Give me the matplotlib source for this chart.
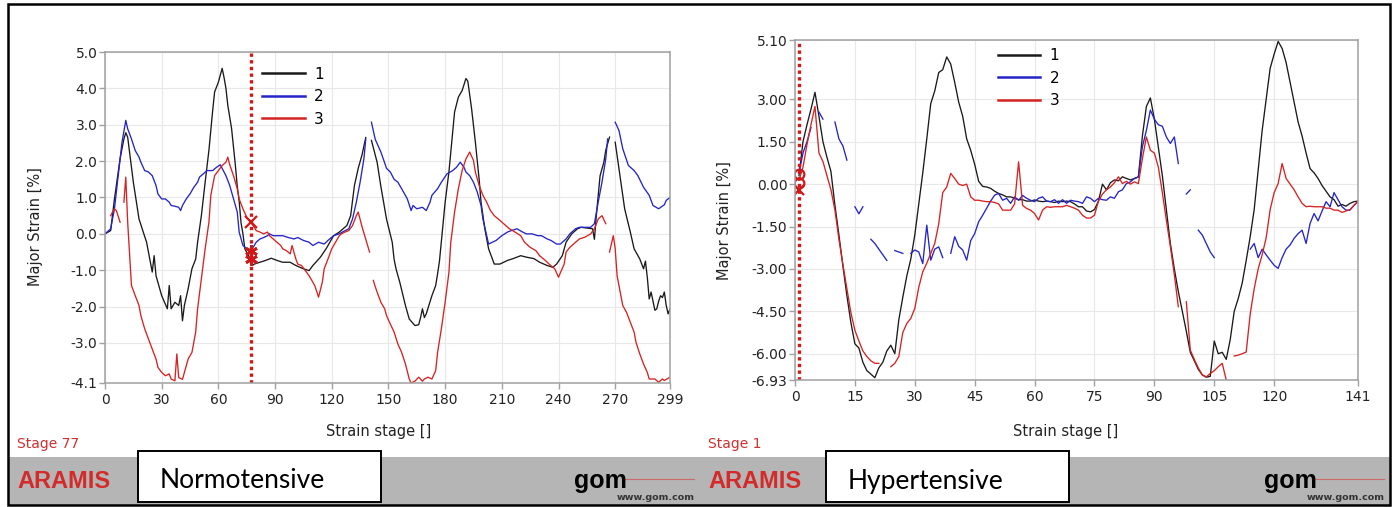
import numpy as np
import matplotlib
matplotlib.use("Agg")
import matplotlib.pyplot as plt
from matplotlib.patches import Rectangle

nan = np.nan
OUTPUT_PATH = "out.png"

COLORS = ["#1a1a1a", "#2424c8", "#d62222"]
LABELS = ["1", "2", "3"]
MARK_RED = "#d01818"

# ---- Normotensive panel (left) ----
norm_xticks = [0, 30, 60, 90, 120, 150, 180, 210, 240, 270, 299]
norm_yticks = [5.0, 4.0, 3.0, 2.0, 1.0, 0.0, -1.0, -2.0, -3.0, -4.1]
norm_stage = 77
norm_x_marks = [0.32]
norm_star_marks = [-0.46, -0.68]

n1_x = [0, 3, 5, 8, 10, 11, 12, 15, 18, 22,
        25, 26, 27, 30, 33, 34, 35, 37, 39, 40,
        41, 42, 44, 46, 48, 49, 51, 53, 55, 57,
        58, 60, 62, 63, 64, 65, 67, 69, 70, 71,
        72, 73, 74, 76, 78, 79, 82, 85, 88, 91,
        94, 98, 101, 105, 108, 110, 114, 117, 121, 124,
        128, 130, 132, 134, 136, 138, 139, 141, 144, 146,
        149, 152, 153, 154, 156, 159, 161, 164, 166, 167,
        168, 169, 170, 173, 175, 176, 177, 178, 180, 182,
        184, 185, 187, 189, 191, 192, 194, 196, 198, 199,
        201, 203, 205, 206, 209, 213, 216, 220, 223, 227,
        230, 234, 237, 239, 242, 244, 247, 250, 252, 255,
        258, 259, 260, 262, 264, 265, 267, 268, 270, 273,
        275, 278, 280, 283, 285, 286, 287, 288, 289, 290,
        291, 292, 293, 294, 295, 296, 297, 298, 299]
n1_y = [0.0, 0.09, 0.96, 2.07, 2.61, 2.78, 2.66, 1.42, 0.41, -0.23,
        -1.05, -0.6, -1.15, -1.7, -2.06, -1.42, -2.06, -1.88, -1.97, -1.7,
        -2.39, -1.97, -1.51, -0.96, -0.69, -0.23, 0.5, 1.42, 2.3, 3.4,
        3.9, 4.17, 4.55, 4.3, 4.0, 3.53, 2.89, 1.88, 1.3, 0.9,
        0.3, 0.0, -0.41, -0.6, -0.87, -0.83, -0.78, -0.73, -0.67, -0.73,
        -0.78, -0.78, -0.87, -0.96, -1.01, -0.87, -0.64, -0.41, -0.05, 0.05,
        0.23, 0.5, 1.33, 1.8, 2.17, 2.65, nan, 2.57, 1.97, 1.3,
        0.4, -0.23, -0.7, -0.96, -1.33, -1.97, -2.34, -2.52, -2.5, -2.3,
        -2.06, -2.3, -2.2, -1.7, -1.42, -1.1, -0.75, -0.2, 0.87, 1.7,
        2.8, 3.35, 3.76, 3.94, 4.27, 4.2, 3.44, 2.52, 1.5, 0.87,
        0.14, -0.41, -0.69, -0.83, -0.83, -0.73, -0.68, -0.6, -0.64, -0.68,
        -0.78, -0.87, -0.92, -0.83, -0.6, -0.23, 0.0, 0.14, 0.18, 0.16,
        0.14, -0.15, 0.5, 1.6, 1.97, 2.3, 2.66, nan, 2.52, 1.42,
        0.69, 0.05, -0.41, -0.69, -0.96, -0.75, -1.2, -1.79, -1.6, -1.85,
        -2.1, -2.06, -1.85, -1.7, -1.75, -1.6, -1.97, -2.2, -2.06]

n2_x = [0, 3, 5, 7, 9, 11, 12, 14, 16, 18,
        19, 21, 23, 25, 27, 28, 30, 32, 34, 35,
        37, 39, 40, 41, 43, 45, 47, 49, 50, 52,
        54, 56, 57, 59, 61, 63, 64, 66, 68, 70,
        71, 73, 75, 77, 79, 80, 82, 84, 86, 87,
        89, 92, 94, 97, 100, 102, 105, 108, 110, 113,
        116, 118, 121, 124, 126, 129, 131, 133, 135, 137,
        138, 139, 141, 143, 146, 147, 149, 151, 153, 155,
        157, 160, 162, 163, 165, 168, 170, 172, 173, 176,
        178, 181, 184, 186, 188, 190, 191, 193, 195, 197,
        199, 200, 202, 203, 205, 207, 210, 213, 215, 218,
        221, 223, 226, 229, 231, 234, 236, 239, 241, 244,
        246, 249, 251, 254, 257, 259, 261, 263, 265, 266,
        268, 270, 272, 274, 277, 280, 282, 285, 288, 290,
        293, 296, 297, 299]
n2_y = [0.0, 0.14, 0.69, 1.6, 2.52, 3.12, 2.89, 2.61, 2.29, 2.11,
        1.97, 1.74, 1.7, 1.6, 1.33, 1.1, 0.96, 0.96, 0.87, 0.78,
        0.76, 0.73, 0.64, 0.78, 0.96, 1.1, 1.28, 1.42, 1.56, 1.65,
        1.74, 1.74, 1.74, 1.83, 1.9, 1.7, 1.6, 1.33, 0.96, 0.6,
        0.05, -0.32, -0.41, -0.46, -0.32, -0.23, -0.14, -0.1, -0.05, 0.0,
        -0.05, -0.05, -0.05, -0.1, -0.14, -0.1, -0.18, -0.23, -0.32, -0.23,
        -0.28, -0.18, -0.05, 0.0, 0.06, 0.14, 0.41, 0.87, 1.42, 2.06,
        2.6, nan, 3.07, 2.6, 2.25, 2.1, 1.8, 1.7, 1.5, 1.42,
        1.24, 0.96, 0.64, 0.78, 0.69, 0.73, 0.64, 0.87, 1.06, 1.24,
        1.42, 1.65, 1.74, 1.83, 1.97, 1.83, 1.7, 1.6, 1.42, 1.15,
        0.78, 0.41, -0.05, -0.28, -0.23, -0.18, -0.05, 0.05, 0.09, 0.14,
        0.05, 0.0, 0.0, -0.05, -0.05, -0.14, -0.18, -0.28, -0.28, -0.14,
        0.0, 0.14, 0.18, 0.18, 0.18, 0.28, 0.87, 1.42, 2.06, 2.61,
        nan, 3.07, 2.84, 2.34, 1.88, 1.74, 1.6, 1.28, 1.06, 0.78,
        0.69, 0.8, 0.92, 1.0]

n3_x = [3, 4, 5, 6, 8, 9, 10, 11, 12, 14,
        16, 18, 19, 21, 23, 25, 27, 28, 30, 32,
        34, 35, 37, 38, 39, 41, 42, 44, 46, 48,
        49, 51, 53, 55, 56, 58, 60, 62, 64, 65,
        66, 68, 70, 71, 73, 75, 77, 79, 80, 82,
        84, 86, 87, 89, 91, 93, 94, 96, 98, 99,
        101, 102, 104, 106, 108, 109, 111, 113, 115, 116,
        118, 120, 122, 124, 125, 127, 129, 131, 133, 134,
        136, 138, 140, 141, 142, 143, 144, 146, 148, 149,
        151, 153, 155, 157, 159, 161, 162, 164, 166, 168,
        169, 171, 173, 175, 176, 178, 180, 182, 183, 185,
        187, 189, 191, 193, 195, 196, 198, 200, 202, 204,
        206, 209, 212, 214, 217, 220, 222, 225, 228, 230,
        233, 235, 238, 240, 243, 244, 246, 249, 251, 254,
        257, 259, 261, 263, 265, 266, 267, 269, 270, 271,
        273, 274, 276, 278, 280, 281, 283, 285, 287, 288,
        291, 293, 295, 296, 299]
n3_y = [0.5, 0.6, 0.69, 0.64, 0.32, nan, 0.87, 1.56, 0.32, -1.42,
        -1.7, -1.97, -2.25, -2.61, -2.89, -3.17, -3.44, -3.67, -3.81, -3.9,
        -3.85, -3.99, -4.04, -3.3, -3.95, -4.0, -3.81, -3.44, -3.26, -2.7,
        -2.06, -1.24, -0.41, 0.32, 1.06, 1.6, 1.74, 1.88, 1.97, 2.11,
        1.9, 1.6, 1.24, 0.96, 0.69, 0.46, 0.32, 0.18, 0.09, 0.05,
        0.0, 0.05, -0.05, -0.14, -0.23, -0.32, -0.41, -0.46, -0.55, -0.32,
        -0.69, -0.83, -0.87, -1.01, -1.15, -1.24, -1.42, -1.74, -1.33, -0.96,
        -0.69, -0.41, -0.23, -0.05, 0.0, 0.05, 0.09, 0.23, 0.5, 0.6,
        0.2, -0.15, -0.5, nan, -1.28, -1.45, -1.6, -1.88, -2.06, -2.25,
        -2.48, -2.7, -3.03, -3.26, -3.58, -3.99, -4.1, -4.05, -3.94, -4.05,
        -3.99, -3.94, -3.99, -3.76, -3.26, -2.61, -1.88, -1.06, -0.23, 0.6,
        1.24, 1.74, 2.06, 2.25, 2.02, 1.7, 1.33, 1.06, 0.87, 0.64,
        0.5, 0.37, 0.23, 0.14, 0.05, -0.05, -0.23, -0.37, -0.46, -0.6,
        -0.73, -0.83, -0.96, -1.19, -0.83, -0.5, -0.37, -0.23, -0.14, -0.09,
        0.0, 0.14, 0.41, 0.5, 0.28, nan, -0.5, -0.05, -0.41, -1.15,
        -1.7, -1.97, -2.16, -2.43, -2.7, -2.98, -3.3, -3.58, -3.81, -3.99,
        -3.99, -4.08, -3.99, -4.03, -3.94]

# ---- Hypertensive panel (right) ----
hyp_xticks = [0, 15, 30, 45, 60, 75, 90, 105, 120, 141]
hyp_yticks = [5.10, 3.00, 1.50, 0.00, -1.50, -3.00, -4.50, -6.00, -6.93]
hyp_stage = 1
hyp_circle_marks = [0.35, 0.05]
hyp_x_marks = [-0.22]
hyp_x = list(range(1, 142))

h1_y = [0.3, 1.5, 2.1, 2.65, 3.25, 2.4, 1.5, 0.95, 0.45, -0.75,
        -1.8, -2.9, -3.95, -4.9, -5.65, -5.8, -6.3, -6.6, -6.72, -6.85,
        -6.5, -6.3, -5.9, -5.7, -6.0, -4.8, -4.0, -3.25, -2.65, -1.8,
        -0.7, 0.4, 1.6, 2.85, 3.3, 3.95, 4.05, 4.5, 4.25, 3.6,
        2.9, 2.4, 1.6, 1.2, 0.7, 0.1, -0.08, -0.1, -0.15, -0.25,
        -0.33, -0.38, -0.45, -0.45, -0.5, -0.55, -0.55, -0.6, -0.6, -0.56,
        -0.6, -0.62, -0.6, -0.62, -0.65, -0.6, -0.62, -0.6, -0.62, -0.7,
        -0.8, -0.8, -0.95, -0.98, -0.9, -0.6, 0.0, -0.2, 0.05, 0.15,
        0.12, 0.26, 0.2, 0.15, 0.2, 0.26, 1.7, 2.75, 3.05, 2.3,
        1.3, 0.3, -0.9, -2.1, -3.0, -3.8, -4.5, -5.2, -5.95, -6.25,
        -6.55, -6.75, -6.83, -6.8, -5.55, -6.0, -5.95, -6.2, -5.5, -4.5,
        -4.05, -3.5, -2.7, -1.86, -0.9, 0.5, 1.9, 3.0, 4.1, 4.6,
        5.05, 4.8, 4.3, 3.6, 2.9, 2.2, 1.7, 1.1, 0.55, 0.4,
        0.2, -0.05, -0.25, -0.45, -0.55, -0.78, -0.72, -0.78, -0.68, -0.62,
        -0.6]
h2_y = [0.4, 1.1, 1.5, 2.0, nan, 2.55, 2.3, nan, nan, 2.2,
        1.6, 1.35, 0.85, nan, -0.8, -1.05, -0.8, nan, -1.95, -2.1,
        -2.3, -2.5, -2.7, nan, -2.35, -2.4, -2.45, nan, -2.45, -2.33,
        -2.4, -2.81, -1.45, -2.69, -2.3, -2.22, -2.6, nan, -2.45, -1.86,
        -2.2, -2.33, -2.69, -2.0, -1.75, -1.33, -1.1, -0.85, -0.6, -0.39,
        -0.33, -0.57, -0.5, -0.68, -0.45, -0.57, -0.4, -0.5, -0.57, -0.62,
        -0.5, -0.45, -0.6, -0.62, -0.55, -0.68, -0.55, -0.68, -0.57, -0.6,
        -0.62, -0.68, -0.45, -0.5, -0.62, -0.5, -0.55, -0.57, -0.45, -0.5,
        -0.27, -0.2, 0.02, 0.08, 0.2, 0.25, 1.32, 1.9, 2.62, 2.3,
        2.1, 2.05, 1.67, 1.44, 1.67, 0.73, nan, -0.35, -0.2, nan,
        -1.63, -1.8, -2.1, -2.4, -2.6, nan, nan, nan, nan, nan,
        nan, nan, nan, -2.3, -2.1, -2.6, -2.3, -2.5, -2.69, -2.87,
        -2.98, -2.6, -2.3, -2.15, -1.92, -1.75, -1.63, -2.1, -1.39, -1.04,
        -1.3, -0.95, -0.62, -0.8, -0.3, -0.55, -0.8, -0.92, -0.92, -0.75,
        -0.62]
h3_y = [0.14, 0.6, 1.4, 2.1, 2.75, 1.1, 0.8, 0.3, -0.2, -0.92,
        -1.95, -2.85, -3.7, -4.55, -5.17, -5.55, -5.9, -6.1, -6.25, -6.34,
        -6.34, nan, nan, -6.46, -6.34, -6.1, -5.25, -4.93, -4.75, -4.4,
        -3.65, -3.1, -2.8, -2.45, -2.1, -1.4, -0.3, -0.1, 0.38, 0.2,
        0.0, -0.05, 0.0, -0.45, -0.57, -0.57, -0.6, -0.62, -0.62, -0.65,
        -0.7, -0.92, -0.92, -0.92, -0.7, 0.79, -0.75, -0.86, -0.92, -1.04,
        -1.27, -0.92, -0.8, -0.82, -0.8, -0.8, -0.8, -0.75, -0.8, -0.85,
        -0.92, -1.1, -1.2, -1.2, -1.1, -0.6, -0.35, -0.2, -0.1, 0.05,
        0.26, 0.02, 0.1, 0.0, 0.08, 0.02, 0.9, 1.67, 1.2, 1.1,
        0.6, -0.3, -1.27, -2.2, -3.2, -4.34, nan, -4.16, -5.87, -6.2,
        -6.5, -6.75, -6.82, -6.7, -6.6, -6.46, -6.34, -6.93, nan, -6.08,
        -6.05, -6.0, -5.94, -4.6, -3.7, -3.0, -2.5, -1.9, -0.9, -0.3,
        0.02, 0.73, 0.2, 0.0, -0.2, -0.45, -0.68, -0.8, -0.78, -0.8,
        -0.8, -0.8, -0.85, -0.85, -0.92, -0.92, -1.0, -0.95, -0.9, -0.75,
        -0.6]


def draw_panel(ax, series, xticks, yticks, yfmt, legend_anchor):
    for (x, y), c, lab in zip(series, COLORS, LABELS):
        ax.plot(x, y, color=c, lw=0.95, label=lab)
    ax.set_xlim(xticks[0], xticks[-1])
    ax.set_ylim(yticks[-1], yticks[0])
    ax.set_xticks(xticks)
    ax.set_yticks(yticks)
    ax.set_yticklabels([yfmt.format(v) for v in yticks])
    ax.grid(True, color="#e8e8e8", lw=0.8)
    ax.set_axisbelow(True)
    for s in ax.spines.values():
        s.set_color("#a0a0a0")
        s.set_linewidth(1.1)
    ax.tick_params(length=4, width=1, color="#a0a0a0", labelsize=10,
                   labelcolor="#222222")
    ax.tick_params(axis="y", pad=1.5)
    ax.tick_params(axis="x", pad=3)
    ax.set_xlabel("Strain stage []", fontsize=10.5, color="#222222")
    ax.set_ylabel("Major Strain [%]", fontsize=10.5, color="#222222")
    leg = ax.legend(loc="upper left", bbox_to_anchor=legend_anchor,
                    frameon=False, fontsize=11, handlelength=2.8,
                    handletextpad=0.6, labelspacing=0.5, borderpad=0,
                    borderaxespad=0)
    for h in leg.legend_handles:
        h.set_linewidth(1.8)


def draw_footer(fig, x_left, stage_text, box_x, box_text, gom_x):
    H = 507.0
    W = 1397.0
    fig.text(x_left / W, 1 - 444 / H, stage_text, color="#d03030",
             fontsize=10, va="center", ha="left")
    fig.text(x_left / W, 1 - 482 / H, "ARAMIS", color="#d42a2a",
             fontsize=17, fontweight="bold", family="Liberation Sans",
             va="center", ha="left")
    fig.add_artist(Rectangle((box_x / W, 1 - 502 / H), 243 / W, 51 / H,
                             transform=fig.transFigure, facecolor="white",
                             edgecolor="black", lw=1.4, zorder=3))
    fig.text((box_x + 22) / W, 1 - 481 / H, box_text, fontsize=19,
             family="Lato", va="center", ha="left", zorder=4)
    fig.text(gom_x / W, 1 - 488 / H, "gom", fontsize=18, fontweight="bold",
             family="Liberation Sans", va="baseline", ha="left")
    fig.add_artist(plt.Line2D([(gom_x + 51) / W, (gom_x + 120) / W],
                              [1 - 479 / H, 1 - 479 / H],
                              transform=fig.transFigure, color="#cc6a6a",
                              lw=0.8))
    fig.text((gom_x + 121) / W, 1 - 497 / H, "www.gom.com", fontsize=6.8,
             fontweight="bold", color="#333333", va="center", ha="right")


def main():
    fig = plt.figure(figsize=(13.97, 5.07), dpi=100)
    W, H = 1397.0, 507.0

    # outer frame and grey footer band
    fig.add_artist(Rectangle((8 / W, 1 - 505 / H), 1382 / W, 48 / H,
                             transform=fig.transFigure, facecolor="#b5b5b5",
                             edgecolor="none", zorder=1))
    fig.add_artist(Rectangle((8 / W, 1 - 505 / H), 1382 / W, 501 / H,
                             transform=fig.transFigure, facecolor="none",
                             edgecolor="black", lw=1.8, zorder=5))

    ax1 = fig.add_axes([105 / W, 1 - 383 / H, 565 / W, 331 / H])
    draw_panel(ax1, [(n1_x, n1_y), (n2_x, n2_y), (n3_x, n3_y)],
               norm_xticks, norm_yticks, "{:.1f}", (0.278, 0.956))
    ax1.axvline(norm_stage, color=MARK_RED, lw=2.4, ls=(0, (1, 1)))
    ax1.plot([norm_stage] * len(norm_x_marks), norm_x_marks, ls="none",
             marker="x", ms=8, mew=1.6, color=MARK_RED)
    ax1.plot([norm_stage] * len(norm_star_marks), norm_star_marks, ls="none",
             marker=(6, 2, 0), ms=9, mew=2, color=MARK_RED)
    ax1.yaxis.set_label_coords(-0.11, 0.474)
    ax1.xaxis.set_label_coords(0.484, -0.125)

    ax2 = fig.add_axes([795 / W, 1 - 380 / H, 563 / W, 340 / H])
    draw_panel(ax2, [(hyp_x, h1_y), (hyp_x, h2_y), (hyp_x, h3_y)],
               hyp_xticks, hyp_yticks, "{:.2f}", (0.36, 0.976))
    ax2.axvline(hyp_stage, color=MARK_RED, lw=2.4, ls=(0, (1, 1)))
    ax2.plot([hyp_stage] * len(hyp_circle_marks), hyp_circle_marks, ls="none",
             marker="o", ms=7, mew=1.6, mfc="none", color=MARK_RED)
    ax2.plot([hyp_stage] * len(hyp_x_marks), hyp_x_marks, ls="none",
             marker="x", ms=7, mew=1.6, color=MARK_RED)
    ax2.yaxis.set_label_coords(-0.112, 0.47)
    ax2.xaxis.set_label_coords(0.481, -0.13)

    draw_footer(fig, 17, "Stage 77", 138, "Normotensive", 574)
    draw_footer(fig, 708, "Stage 1", 826, "Hypertensive", 1264)

    fig.savefig(OUTPUT_PATH, dpi=100)
    plt.close(fig)


if __name__ == "__main__":
    main()
